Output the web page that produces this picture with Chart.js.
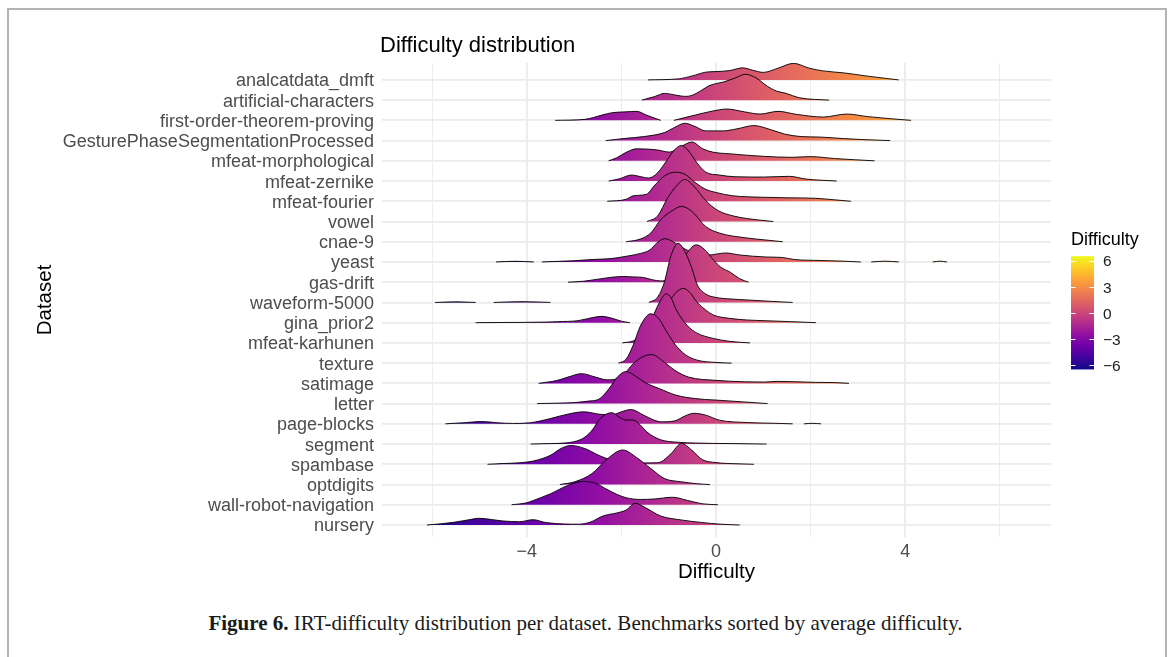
<!DOCTYPE html>
<html>
<head>
<meta charset="utf-8">
<script src="https://cdn.jsdelivr.net/npm/chart.js@4/dist/chart.umd.min.js"></script>
<style>
    html, body { margin: 0; padding: 0; background: #fff; }
    body { width: 1171px; height: 657px; position: relative; overflow: hidden; }
    #frame { position: absolute; left: 7px; top: 8px; width: 1156px; height: 720px; border: 2px solid #b4b4b4; }
    #ridges { position: absolute; left: 0; top: 0; }
    #caption {
        position: absolute; left: 0; top: 611px; width: 1171px; text-align: center;
        font-family: 'Liberation Serif', 'Times New Roman', serif; font-size: 21px; color: #1a1a1a;
    }
</style>
</head>
<body>
<div id="frame"></div>
<canvas id="ridges" width="1171" height="600"></canvas>
<div id="caption"><b>Figure 6.</b> IRT-difficulty distribution per dataset. Benchmarks sorted by average difficulty.</div>
<script>
// datasets listed top to bottom, as they appear on the y axis
const datasetNames = [
    'analcatdata_dmft', 'artificial-characters', 'first-order-theorem-proving',
    'GesturePhaseSegmentationProcessed', 'mfeat-morphological', 'mfeat-zernike',
    'mfeat-fourier', 'vowel', 'cnae-9', 'yeast', 'gas-drift', 'waveform-5000',
    'gina_prior2', 'mfeat-karhunen', 'texture', 'satimage', 'letter', 'page-blocks',
    'segment', 'spambase', 'optdigits', 'wall-robot-navigation', 'nursery'
];

const difficultyTicks = [-4, 0, 4];
const difficultyGrid = [-6, -4, -2, 0, 2, 4, 6];
const legendTicks = [-6, -3, 0, 3, 6];
const fillLimits = [-6.46, 6.58];

// density curves, [difficulty, density] pairs, one array per segment
const analcatdata = [[[-1.44, 0], [-0.8, 1], [-0.5, 4], [-0.22, 7.7], [0, 8.3], [0.29, 9.3], [0.56, 12], [0.8, 9.3], [1.0, 7.5], [1.31, 11.7], [1.64, 16.5], [1.97, 11.7], [2.26, 9], [2.7, 7], [3.21, 3.7], [3.86, 0]]];
const artificialCharacters = [[[-1.57, 0], [-1.3, 3.5], [-1.09, 6.7], [-0.85, 5], [-0.66, 3.7], [-0.51, 4.7], [-0.3, 10], [-0.15, 14.3], [0.02, 16.7], [0.15, 18], [0.4, 22], [0.62, 25.8], [0.85, 22], [1.09, 13.7], [1.28, 9], [1.46, 7], [1.77, 2.3], [2.39, 0]]];
const firstOrder = [
    [[-3.4, 0], [-2.77, 1], [-2.41, 5.3], [-2.19, 7.7], [-1.9, 8.5], [-1.68, 9], [-1.46, 5], [-1.17, 0]],
    [[-0.89, 0], [-0.44, 5.3], [-0.07, 9.3], [0.23, 11.3], [0.6, 8.5], [0.93, 6.3], [1.31, 9], [1.7, 6], [2.27, 3.3], [2.76, 6.3], [3.21, 3.7], [4.12, 0]]
];
const gesturePhase = [[[-2.33, 0], [-1.9, 2.3], [-1.53, 4], [-1.09, 8], [-0.87, 13.3], [-0.66, 17.3], [-0.44, 14], [-0.22, 9.7], [0.15, 9.7], [0.44, 11.7], [0.8, 15], [1.17, 10.7], [1.45, 6.5], [1.8, 4], [2.2, 3.5], [2.7, 2], [3.1, 1], [3.68, 0]]];
const mfeatMorphological = [[[-2.27, 0], [-2.1, 3], [-1.89, 8.7], [-1.68, 12], [-1.26, 11], [-0.98, 8.7], [-0.75, 14], [-0.51, 18.7], [-0.28, 12], [-0.07, 8.7], [0.29, 7], [1.0, 4.5], [1.6, 3.5], [2.0, 4.2], [2.5, 2.3], [3.35, 0]]];
const mfeatZernike = [[[-2.27, 0], [-2.04, 2.3], [-1.79, 6], [-1.6, 4.5], [-1.42, 3], [-1.24, 8], [-1.03, 21.3], [-0.88, 31], [-0.73, 35.6], [-0.58, 30], [-0.4, 18], [-0.22, 9], [0.07, 6], [0.4, 4.3], [1.02, 4], [1.55, 4.7], [1.9, 2], [2.55, 0]]];
const mfeatFourier = [[[-2.3, 0], [-1.9, 2], [-1.75, 5.5], [-1.47, 7], [-1.31, 15.3], [-1.09, 25.3], [-0.87, 29], [-0.66, 27], [-0.44, 18.7], [-0.22, 12], [0, 8.8], [0.35, 5.5], [1.0, 4], [1.5, 3.5], [2.1, 3], [2.5, 1.5], [2.85, 0]]];
const vowel = [[[-1.46, 0], [-1.24, 5.3], [-1.02, 23.7], [-0.84, 35.3], [-0.66, 42], [-0.47, 35.3], [-0.22, 21], [0.04, 11], [0.37, 5.5], [0.65, 3], [1.21, 0]]];
const cnae9 = [[[-1.9, 0], [-1.6, 2.7], [-1.38, 8.7], [-1.17, 22], [-0.95, 30.3], [-0.73, 35.3], [-0.51, 30.3], [-0.22, 15.3], [0.07, 8.7], [0.66, 3.7], [1.0, 2], [1.41, 0]]];
const yeast = [
    [[-4.65, 0], [-4.25, 0.7], [-3.85, 0]],
    [[-3.68, 0], [-3.3, 0.7], [-2.99, 1.3], [-2.6, 2.5], [-2.2, 3.5], [-1.9, 5.7], [-1.6, 8.5], [-1.4, 12], [-1.25, 19], [-1.08, 23.3], [-0.9, 20], [-0.7, 14], [-0.45, 9], [-0.15, 7], [0.2, 9], [0.5, 7], [1.05, 5], [1.4, 4.5], [1.65, 2.5], [2.2, 1.5], [2.7, 0.8], [3.06, 0]],
    [[3.28, 0], [3.57, 0.8], [3.86, 0]],
    [[4.58, 0], [4.73, 0.8], [4.88, 0]]
];
const gasDrift = [[[-3.13, 0], [-2.8, 1], [-2.5, 3], [-2.2, 5], [-1.97, 5.7], [-1.75, 5.3], [-1.53, 4.7], [-1.35, 2.5], [-1.17, 1.3], [-1.0, 3], [-0.8, 14], [-0.6, 30], [-0.42, 37.3], [-0.25, 33], [-0.05, 22], [0.1, 15], [0.3, 10], [0.5, 3.5], [0.69, 0]]];
const waveform5000 = [
    [[-5.94, 0], [-5.5, 0.6], [-5.08, 0]],
    [[-4.7, 0], [-4.1, 0.8], [-3.5, 0]],
    [[-1.42, 0], [-1.24, 5], [-1.1, 19], [-0.95, 47], [-0.8, 59], [-0.66, 51], [-0.51, 34], [-0.4, 18], [-0.22, 8.5], [0, 5], [0.3, 3.5], [0.66, 2.5], [1.2, 1], [1.62, 0]]
];
const ginaPrior2 = [
    [[-5.08, 0], [-4.5, 0.2], [-4.08, 0.3], [-3.6, 0.6], [-3.35, 1], [-2.92, 2], [-2.62, 5], [-2.41, 6.3], [-2.19, 4.3], [-2.0, 1.5], [-1.82, 0]],
    [[-1.5, 0], [-1.3, 3], [-1.15, 9], [-1.0, 20], [-0.85, 30], [-0.69, 34.3], [-0.55, 30], [-0.41, 21], [-0.2, 12], [-0.06, 7.7], [0.29, 4.3], [0.65, 2.7], [1.02, 2], [1.6, 1], [2.11, 0]]
];
const mfeatKarhunen = [[[-1.98, 0], [-1.75, 2], [-1.55, 8], [-1.35, 25], [-1.2, 40], [-1.05, 49], [-0.95, 45], [-0.84, 33], [-0.6, 17], [-0.41, 10], [-0.06, 4.5], [0.3, 1.5], [0.72, 0]]];
const texture = [[[-2.06, 0], [-1.9, 4], [-1.75, 18], [-1.6, 37], [-1.38, 49.3], [-1.22, 45], [-1.05, 32], [-0.87, 19], [-0.65, 8.5], [-0.4, 3], [0, 0.7], [0.33, 0]]];
const satimage = [[[-3.75, 0], [-3.35, 3], [-3.13, 6.3], [-2.84, 9.7], [-2.55, 6.3], [-2.3, 3.5], [-2.1, 4.5], [-1.97, 8], [-1.75, 19.7], [-1.53, 27], [-1.35, 28.7], [-1.09, 21], [-0.87, 13], [-0.58, 6.3], [0, 3], [0.6, 1.6], [1.02, 1.3], [1.31, 2], [2.11, 1], [2.5, 0.8], [2.81, 0]]];
const letter = [[[-3.78, 0], [-3.3, 0.5], [-2.99, 1], [-2.7, 2.5], [-2.48, 4.3], [-2.26, 15], [-2.08, 26.7], [-1.9, 32], [-1.68, 26.7], [-1.5, 21], [-1.2, 15], [-0.85, 8.5], [-0.44, 5], [0, 3.5], [0.58, 1.7], [1.09, 0]]];
const pageBlocks = [
    [[-5.72, 0], [-5.3, 1.2], [-4.96, 2.3], [-4.6, 1], [-4.3, 0.4], [-3.94, 1], [-3.7, 3], [-3.5, 5.3], [-3.13, 9.7], [-2.8, 12], [-2.45, 9.5], [-2.2, 9], [-2.0, 12], [-1.8, 14.3], [-1.53, 8.7], [-1.3, 3.5], [-1.15, 2], [-0.87, 3], [-0.65, 8], [-0.47, 10.5], [-0.22, 8.7], [0.07, 3.7], [0.66, 1.3], [1.2, 0.6], [1.62, 0]],
    [[1.86, 0], [2.04, 0.5], [2.22, 0]]
];
const segment = [[[-3.92, 0], [-3.5, 0.5], [-3.21, 1], [-2.95, 3], [-2.77, 7], [-2.6, 15], [-2.48, 23.7], [-2.33, 29.7], [-2.2, 31.3], [-2.05, 27], [-1.9, 24], [-1.75, 24], [-1.6, 19], [-1.46, 12], [-1.17, 4.3], [-0.8, 1.8], [-0.44, 1], [0.3, 0.5], [1.07, 0]]];
const spambase = [[[-4.83, 0], [-4.5, 0.8], [-4.23, 1.3], [-3.86, 3.3], [-3.5, 9], [-3.28, 15.7], [-3.07, 18.8], [-2.77, 15.7], [-2.48, 9], [-2.19, 4], [-1.9, 2], [-1.6, 1.3], [-1.3, 1.5], [-1.17, 2.3], [-0.95, 10.7], [-0.73, 20.8], [-0.51, 14], [-0.29, 4.7], [0, 1.7], [0.4, 0.6], [0.8, 0]]];
const optdigits = [[[-3.3, 0], [-2.99, 2.7], [-2.62, 11], [-2.33, 24.3], [-1.97, 34.5], [-1.68, 27], [-1.38, 16], [-1.09, 6], [-0.73, 2.7], [-0.4, 0.8], [-0.13, 0]]];
const wallRobot = [[[-4.32, 0], [-4.0, 2], [-3.86, 4.3], [-3.5, 11], [-3.13, 19.3], [-2.8, 23.3], [-2.55, 21.5], [-2.33, 16], [-2.1, 10.5], [-1.9, 7], [-1.6, 5.3], [-1.3, 5.8], [-0.92, 7.5], [-0.6, 4.3], [-0.29, 1], [0.04, 0]]];
const nursery = [[[-6.11, 0], [-5.8, 1.3], [-5.54, 2.7], [-5.25, 5], [-5.0, 6.7], [-4.75, 5.5], [-4.5, 4], [-4.15, 3.3], [-3.87, 5.3], [-3.6, 2.5], [-3.2, 1], [-2.9, 0.8], [-2.65, 3], [-2.39, 9], [-2.1, 12], [-1.9, 15], [-1.71, 21.7], [-1.5, 17.5], [-1.17, 9], [-0.73, 5], [-0.3, 2.5], [0.1, 0.8], [0.5, 0]]];

// same order as datasetNames
const densities = [
    analcatdata, artificialCharacters, firstOrder, gesturePhase, mfeatMorphological,
    mfeatZernike, mfeatFourier, vowel, cnae9, yeast, gasDrift, waveform5000, ginaPrior2,
    mfeatKarhunen, texture, satimage, letter, pageBlocks, segment, spambase, optdigits,
    wallRobot, nursery
];

// density units that make one row of height
const densityPerRow = 20.2;

const plasma = ['#0d0887', '#41049d', '#6a00a8', '#8f0da4', '#b12a90', '#cc4778',
    '#e16462', '#f2844b', '#fca636', '#fcce25', '#f0f921'];

const sans = "'Liberation Sans', Arial, sans-serif";
const minus = v => (v < 0 ? '\u2212' + Math.abs(v) : String(v));

function plasmaGradient(ctx, x0, y0, x1, y1) {
    const g = ctx.createLinearGradient(x0, y0, x1, y1);
    plasma.forEach((c, i) => g.addColorStop(i / (plasma.length - 1), c));
    return g;
}

function ridgeFill(context) {
    const chart = context.chart;
    const x = chart.scales.x;
    if (!chart.chartArea || !x) return plasma[5];
    return plasmaGradient(chart.ctx, x.getPixelForValue(fillLimits[0]), 0,
        x.getPixelForValue(fillLimits[1]), 0);
}

// flatten segments into one line, with a null point between pieces
function ridgePoints(segments, row) {
    const pts = [];
    segments.forEach((seg, i) => {
        if (i > 0) pts.push({ x: (pts[pts.length - 1].x + seg[0][0]) / 2, y: null });
        seg.forEach(([x, d]) => pts.push({ x: x, y: row + d / densityPerRow }));
    });
    return pts;
}

const rowCount = datasetNames.length;

// bottom row first so that lower ridges are drawn over the ones above
const ridgeDatasets = [];
for (let row = 0; row < rowCount; row++) {
    const idx = rowCount - 1 - row;
    ridgeDatasets.push({
        label: datasetNames[idx],
        data: ridgePoints(densities[idx], row),
        fill: { value: row },
        backgroundColor: ridgeFill,
        borderColor: '#000000',
        borderWidth: 0.9,
        pointRadius: 0,
        cubicInterpolationMode: 'monotone',
        spanGaps: false
    });
}

const annotations = {
    id: 'annotations',
    afterDraw(chart) {
        const ctx = chart.ctx;
        ctx.save();

        ctx.fillStyle = '#000';
        ctx.font = `22px ${sans}`;
        ctx.textAlign = 'left';
        ctx.textBaseline = 'alphabetic';
        ctx.fillText('Difficulty distribution', 380, 52);

        // colour bar
        const barLeft = 1071, barRight = 1094;
        const valueToY = v => 313.3 - v * 8.69;
        const top = valueToY(fillLimits[1]), bottom = valueToY(fillLimits[0]);
        ctx.fillStyle = plasmaGradient(ctx, 0, bottom, 0, top);
        ctx.fillRect(barLeft, top, barRight - barLeft, bottom - top);

        ctx.strokeStyle = '#ffffff';
        ctx.lineWidth = 1;
        ctx.font = `15.5px ${sans}`;
        ctx.textBaseline = 'middle';
        legendTicks.forEach(v => {
            const y = Math.round(valueToY(v)) + 0.5;
            ctx.beginPath();
            ctx.moveTo(barLeft, y); ctx.lineTo(barLeft + 4.5, y);
            ctx.moveTo(barRight - 4.5, y); ctx.lineTo(barRight, y);
            ctx.stroke();
            ctx.fillStyle = '#1a1a1a';
            ctx.fillText(minus(v), 1103, valueToY(v) + 1);
        });

        ctx.fillStyle = '#000';
        ctx.font = `18px ${sans}`;
        ctx.textBaseline = 'alphabetic';
        ctx.fillText('Difficulty', 1071, 245);
        ctx.restore();
    }
};

new Chart(document.getElementById('ridges'), {
    type: 'line',
    data: { datasets: ridgeDatasets },
    options: {
        responsive: false,
        animation: false,
        events: [],
        layout: { padding: { top: 63, right: 120, bottom: 0, left: 0 } },
        plugins: {
            legend: { display: false },
            tooltip: { enabled: false }
        },
        scales: {
            x: {
                type: 'linear',
                min: -7.06,
                max: 7.08,
                afterBuildTicks: scale => {
                    scale.ticks = difficultyGrid.map(v => ({ value: v }));
                },
                afterFit: scale => { scale.height = 63; },
                ticks: {
                    autoSkip: false,
                    maxRotation: 0,
                    padding: 4,
                    color: '#4d4d4d',
                    font: { family: sans, size: 18 },
                    callback: v => (difficultyTicks.includes(v) ? minus(v) : '')
                },
                grid: {
                    color: '#ebebeb',
                    lineWidth: c => (difficultyTicks.includes(c.tick.value) ? 1.8 : 0.9),
                    drawTicks: false
                },
                border: { display: false },
                title: {
                    display: true,
                    text: 'Difficulty',
                    color: '#000',
                    font: { family: sans, size: 20.5 },
                    padding: { top: 0, bottom: 15 }
                }
            },
            y: {
                type: 'linear',
                min: -0.593,
                max: 22.835,
                afterBuildTicks: scale => {
                    scale.ticks = datasetNames.map((_, row) => ({ value: row }));
                },
                afterFit: scale => { scale.width = 382; },
                ticks: {
                    autoSkip: false,
                    padding: 8,
                    labelOffset: 1.5,
                    color: '#4d4d4d',
                    font: { family: sans, size: 18 },
                    callback: v => datasetNames[rowCount - 1 - v]
                },
                grid: {
                    color: '#ebebeb',
                    lineWidth: 1.8,
                    drawTicks: false
                },
                border: { display: false },
                title: {
                    display: true,
                    text: 'Dataset',
                    color: '#000',
                    font: { family: sans, size: 20.5 },
                    padding: { top: 33, bottom: 0 }
                }
            }
        }
    },
    plugins: [annotations]
});
</script>
</body>
</html>
